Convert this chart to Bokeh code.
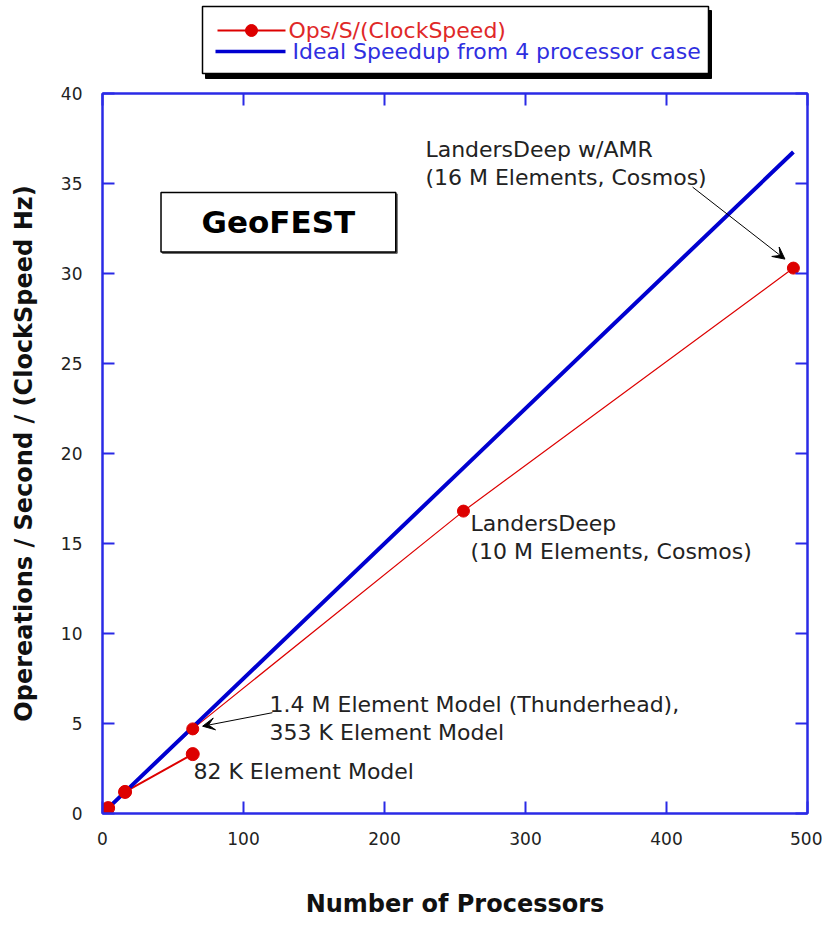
from bokeh.plotting import figure
from bokeh.models import Range1d, LinearAxis, FixedTicker, Arrow, VeeHead
from bokeh.layouts import column
from bokeh.core.properties import value
from bokeh.embed import file_html
from bokeh.resources import INLINE

# ---------------- data ----------------
small_procs = [4, 16, 64]
small_vals = [0.3, 1.2, 3.3]
ops_procs = [16, 64, 256, 490]
ops_vals = [1.2, 4.7, 16.8, 30.3]
ideal_procs = [4, 16, 64, 256, 490]
ideal_vals = [0.3, 1.2, 4.8, 19.2, 36.75]
x_ticks = [0, 100, 200, 300, 400, 500]
y_ticks = [0, 5, 10, 15, 20, 25, 30, 35, 40]

legend_labels = ["Ops/S/(ClockSpeed)", "Ideal Speedup from 4 processor case"]
x_label = "Number of Processors"
y_label = "Opereations / Second / (ClockSpeed Hz)"
title_text = "GeoFEST"
note_texts = [
    "LandersDeep w/AMR\n(16 M Elements, Cosmos)",
    "LandersDeep\n(10 M Elements, Cosmos)",
    "1.4 M Element Model (Thunderhead),\n353 K Element Model",
    "82 K Element Model",
]
note_x = [229, 261, 118.5, 64.5]
note_y = [37.6, 16.8, 6.75, 3.05]
arrow_x0 = [418.5, 120.5]
arrow_y0 = [34.8, 5.6]
arrow_x1 = [484, 71]
arrow_y1 = [30.8, 4.85]
title_box = dict(left=41.5, right=208, top=34.5, bottom=31.2)

RED = "#dd0000"
RED_TXT = "#e02828"
BLUE = "#0000d0"
BLUE_TXT = "#2f2fe0"
FRAME = "#2a2ae6"
FONT = "DejaVu Sans"

# layout geometry (canvas pixels)
FRAME_LEFT = 102
FRAME_W = 705
RIGHT_BORDER = 15
TOP_BORDER = 10
LEG_H = 83
FRAME_H = 720
BOTTOM_BORDER = 104

# ---------------- legend strip ----------------
# the column aligns this strip's frame with the main frame, so its x range is in canvas pixels
leg = figure(frame_width=FRAME_W, height=LEG_H,
             x_range=Range1d(FRAME_LEFT, FRAME_LEFT + FRAME_W), y_range=Range1d(LEG_H, 0),
             output_backend="svg", toolbar_location=None,
             min_border_left=FRAME_LEFT, min_border_right=RIGHT_BORDER,
             min_border_top=0, min_border_bottom=0)
leg.axis.visible = False
leg.grid.visible = False
leg.outline_line_color = None
leg.quad(left=[205], right=[711], top=[10], bottom=[78], fill_color="black", line_color="black")
leg.quad(left=[202], right=[708], top=[6], bottom=[73], fill_color="white",
         line_color="black", line_width=1.5)
leg.line([217, 285], [30, 30], line_color=RED, line_width=2)
leg.scatter([251], [30], size=12, fill_color=RED, line_color=RED)
leg.line([215, 285], [51, 51], line_color=BLUE, line_width=3.5)
leg.text([288], [30], text=[legend_labels[0]], text_baseline="middle", text_align="left",
         text_color=RED_TXT, text_font=value(FONT), text_font_size="22px")
leg.text([292], [51], text=[legend_labels[1]], text_baseline="middle", text_align="left",
         text_color=BLUE_TXT, text_font=value(FONT), text_font_size="22px")

# ---------------- main plot ----------------
p = figure(frame_width=FRAME_W, frame_height=FRAME_H, x_range=Range1d(0, 500), y_range=Range1d(0, 40),
           output_backend="svg", toolbar_location=None,
           min_border_left=FRAME_LEFT, min_border_right=RIGHT_BORDER,
           min_border_top=TOP_BORDER, min_border_bottom=BOTTOM_BORDER,
           x_axis_label=x_label, y_axis_label=y_label)
p.grid.visible = False
p.outline_line_color = FRAME
p.outline_line_width = 2
p.background_fill_color = "white"
p.border_fill_color = "white"


def style_axis(ax, ticks, show_labels):
    ax.ticker = FixedTicker(ticks=ticks)
    ax.axis_line_color = FRAME
    ax.axis_line_width = 2
    ax.major_tick_line_color = FRAME
    ax.major_tick_line_width = 2
    ax.major_tick_in = 12
    ax.major_tick_out = 0
    ax.minor_tick_line_color = None
    if show_labels:
        ax.major_label_text_font = FONT
        ax.major_label_text_font_size = "17px"
        ax.major_label_text_color = "#222222"
    else:
        ax.major_label_overrides = {t: "" for t in ticks}
        ax.major_label_text_font_size = "1px"
        ax.major_label_standoff = 0


style_axis(p.xaxis[0], x_ticks, True)
style_axis(p.yaxis[0], y_ticks, True)
p.xaxis[0].major_label_standoff = 18
p.yaxis[0].major_label_standoff = 20
for ax in (p.xaxis[0], p.yaxis[0]):
    ax.axis_label_text_font = FONT
    ax.axis_label_text_font_style = "bold"
    ax.axis_label_text_font_size = "24px"
    ax.axis_label_text_color = "#111111"
p.xaxis[0].axis_label_standoff = 42
p.yaxis[0].axis_label_standoff = 20

top_ax = LinearAxis()
style_axis(top_ax, x_ticks, False)
p.add_layout(top_ax, "above")
right_ax = LinearAxis()
style_axis(right_ax, y_ticks, False)
p.add_layout(right_ax, "right")

# red series
p.line(small_procs, small_vals, line_color=RED, line_width=2)
p.line(ops_procs, ops_vals, line_color=RED, line_width=1.2)
# ideal line
p.line(ideal_procs, ideal_vals, line_color=BLUE, line_width=4)
# markers
p.scatter(small_procs, small_vals, size=13, fill_color=RED, line_color=RED)
p.scatter(ops_procs, ops_vals, size=12, fill_color=RED, line_color=RED)

# title box
p.quad(left=[title_box["left"] + 1], right=[title_box["right"] + 1],
       top=[title_box["top"] - 0.08], bottom=[title_box["bottom"] - 0.08],
       fill_color="#555555", line_color="#555555")
p.quad(left=[title_box["left"]], right=[title_box["right"]],
       top=[title_box["top"]], bottom=[title_box["bottom"]],
       fill_color="white", line_color="black", line_width=1.5)
p.text([(title_box["left"] + title_box["right"]) / 2], [(title_box["top"] + title_box["bottom"]) / 2],
       text=[title_text], text_align="center", text_baseline="middle",
       text_font=value(FONT), text_font_style="bold", text_font_size="31px", text_color="black")

# notes
p.text(note_x, note_y, text=note_texts, text_align="left", text_baseline="top",
       text_font=value(FONT), text_font_size="22px", text_color="#222222", text_line_height=1.12)

for xs, ys, xe, ye in zip(arrow_x0, arrow_y0, arrow_x1, arrow_y1):
    p.add_layout(Arrow(x_start=xs, y_start=ys, x_end=xe, y_end=ye,
                       line_color="black", line_width=1,
                       end=VeeHead(size=12, fill_color="black", line_color="black")))

layout = column(leg, p, spacing=0)
open("out.html", "w").write(file_html(layout, INLINE))
